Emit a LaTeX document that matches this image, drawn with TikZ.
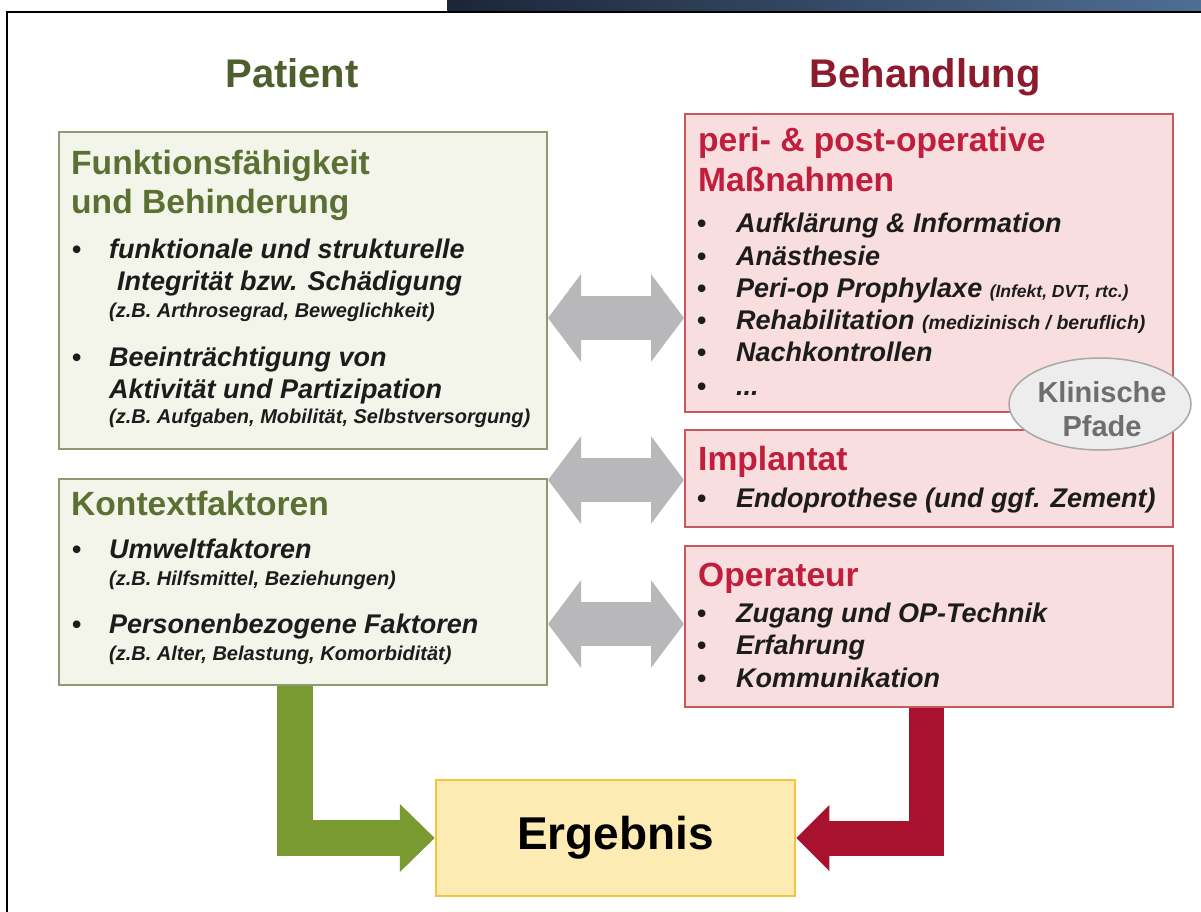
\documentclass[tikz,border=0pt]{standalone}
\usepackage{fontspec}
\setmainfont{Liberation Sans}
\usetikzlibrary{arrows.meta,shapes.geometric,backgrounds}
\definecolor{gfill}{HTML}{F3F4EA}
\definecolor{gborder}{HTML}{8E9B72}
\definecolor{ghead}{HTML}{5B7133}
\definecolor{gtitle}{HTML}{4E5E2C}
\definecolor{garrowc}{HTML}{789A30}
\definecolor{rfill}{HTML}{F8DEDE}
\definecolor{rborder}{HTML}{C45A5E}
\definecolor{rhead}{HTML}{C01E3C}
\definecolor{rtitle}{HTML}{8C1B2E}
\definecolor{rarrowc}{HTML}{A8122E}
\definecolor{grayarr}{HTML}{B8B8BB}
\definecolor{efill}{HTML}{FCECB4}
\definecolor{eborder}{HTML}{F2C440}
\definecolor{elfill}{HTML}{EDEDED}
\definecolor{elborder}{HTML}{A8A8A8}
\definecolor{eltext}{HTML}{6E6E6E}
\definecolor{txt}{HTML}{1C1C1C}
\definecolor{barL}{HTML}{1B2538}
\definecolor{barR}{HTML}{4F6E93}
\tikzset{
  gbox/.style={draw=gborder,fill=gfill,line width=2pt,inner sep=0pt,minimum width=488pt},
  rbox/.style={draw=rborder,fill=rfill,line width=2pt,inner sep=0pt,minimum width=488pt},
  ptitle/.style={font=\bfseries\fontsize{40}{48}\selectfont,anchor=base,inner sep=0pt},
  ghd/.style={font=\bfseries\fontsize{33.6}{40}\selectfont,text=ghead,anchor=base west,inner sep=0pt},
  rhd/.style={font=\bfseries\fontsize{33.6}{40}\selectfont,text=rhead,anchor=base west,inner sep=0pt},
  itm/.style={font=\bfseries\itshape\fontsize{27}{32}\selectfont,text=txt,anchor=base west,inner sep=0pt},
  sml/.style={font=\bfseries\itshape\fontsize{20}{24}\selectfont,text=txt,anchor=base west,inner sep=0pt},
  bul/.style={font=\bfseries\fontsize{26.5}{32}\selectfont,text=txt,anchor=base west,inner sep=0pt},
  dblarrow/.style={draw=grayarr,line width=44pt,{Triangle[width=86pt,length=33pt]}-{Triangle[width=86pt,length=33pt]}},
  garrow/.style={draw=garrowc,line width=36pt,-{Triangle[width=66pt,length=35pt]}},
  rarrow/.style={draw=rarrowc,line width=35pt,-{Triangle[width=64pt,length=33pt]}},
  glink/.style={draw=garrowc,line width=37pt},
  rlink/.style={draw=rarrowc,line width=38pt},
  klin/.style={font=\bfseries\fontsize{29}{34}\selectfont,text=eltext,anchor=base,inner sep=0pt}
}
\begin{document}
\begin{tikzpicture}[x=1pt,y=-1pt]
\useasboundingbox (0,0) rectangle (1201,912);
\fill[white] (0,0) rectangle (1201,912);
% top bar and frame
\shade[left color=barL,right color=barR] (447,0) rectangle (1201,12);
\draw[line width=1.5pt,black] (7,912) -- (7,12) -- (1201,12);

% titles
\node[ptitle,text=gtitle] (tP) at (292,88) {Patient};
\node[ptitle,text=rtitle] (tB) at (925,88) {Behandlung};

% boxes
\node[gbox,minimum height=317pt] (L1) at (303,290.5) {};
\node[gbox,minimum height=206pt] (L2) at (303,582) {};
\node[rbox,minimum height=298pt] (R1) at (929,263) {};
\node[rbox,minimum height=97pt] (R2) at (929,478.5) {};
\node[rbox,minimum height=161pt] (R3) at (929,626.5) {};
\node[draw=eborder,fill=efill,line width=2.5pt,minimum width=359pt,minimum height=116pt,inner sep=0pt,
      font=\bfseries\fontsize{46}{52}\selectfont,text=black] (E) at (615.5,838) {Ergebnis};

% links between boxes (behind)
\begin{pgfonlayer}{background}
\draw[glink] ([xshift=-8.5pt]L1.south) -- ([xshift=-8.5pt]L2.north);
\draw[rlink] ([xshift=-2pt]R1.south) -- ([xshift=-2pt]R2.north);
\draw[rlink] ([xshift=-2pt]R2.south) -- ([xshift=-2pt]R3.north);
\end{pgfonlayer}

% left box 1 text
\node[ghd] (h1a) at (71,175) {Funktionsfähigkeit};
\node[ghd] (h1b) at (71,213) {und Behinderung};
\node[bul] (b1) at (72,258) {•};
\node[itm] (i1a) at (109,258) {funktionale und strukturelle};
\node[itm] (i1b) at (117,290) {Integrität bzw. Schädigung};
\node[sml] (s1) at (109,317) {(z.B. Arthrosegrad, Beweglichkeit)};
\node[bul] (b2) at (72,366) {•};
\node[itm] (i2a) at (109,366) {Beeinträchtigung von};
\node[itm] (i2b) at (109,398) {Aktivität und Partizipation};
\node[sml] (s2) at (109,423) {(z.B. Aufgaben, Mobilität, Selbstversorgung)};

% left box 2 text
\node[ghd] (h2) at (71,515) {Kontextfaktoren};
\node[bul] (b3) at (72,558) {•};
\node[itm] (i3) at (109,558) {Umweltfaktoren};
\node[sml] (s3) at (109,585) {(z.B. Hilfsmittel, Beziehungen)};
\node[bul] (b4) at (72,633) {•};
\node[itm] (i4) at (109,633) {Personenbezogene Faktoren};
\node[sml] (s4) at (109,660) {(z.B. Alter, Belastung, Komorbidität)};

% right box 1 text
\node[rhd] (h3a) at (698,152) {peri- \& post-operative};
\node[rhd] (h3b) at (698,192) {Maßnahmen};
\node[bul] (b5) at (697,232) {•};
\node[itm] (i5) at (736,232) {Aufklärung \& Information};
\node[bul] (b6) at (697,265) {•};
\node[itm] (i6) at (736,265) {Anästhesie};
\node[bul] (b7) at (697,297) {•};
\node[itm] (i7) at (736,297) {Peri-op Prophylaxe \fontsize{17.5}{20}\selectfont(Infekt, DVT, rtc.)};
\node[bul] (b8) at (697,329) {•};
\node[itm] (i8) at (736,329) {Rehabilitation \fontsize{19.5}{22}\selectfont(medizinisch / beruflich)};
\node[bul] (b9) at (697,361) {•};
\node[itm] (i9) at (736,361) {Nachkontrollen};
\node[bul] (b10) at (697,395) {•};
\node[itm] (i10) at (736,395) {...};

% right box 2 text
\node[rhd] (h4) at (698,470) {Implantat};
\node[bul] (b11) at (697,507) {•};
\node[itm] (i11) at (736,507) {Endoprothese (und ggf. Zement)};

% right box 3 text
\node[rhd] (h5) at (698,586) {Operateur};
\node[bul] (b12) at (697,622) {•};
\node[itm] (i12) at (736,622) {Zugang und OP-Technik};
\node[bul] (b13) at (697,654) {•};
\node[itm] (i13) at (736,654) {Erfahrung};
\node[bul] (b14) at (697,687) {•};
\node[itm] (i14) at (736,687) {Kommunikation};

% Klinische Pfade
\node[ellipse,draw=elborder,fill=elfill,line width=1.5pt,minimum width=182pt,minimum height=92pt,inner sep=0pt] (K) at (1100,404) {};
\node[klin] (k1) at (1102,402) {Klinische};
\node[klin] (k2) at (1102,436) {Pfade};

% gray double arrows
\draw[dblarrow] (L1.east |- 0,318) -- (R1.west |- 0,318);
\draw[dblarrow] (L2.east |- 0,480) -- (R2.west |- 0,480);
\draw[dblarrow] (L2.east |- 0,624) -- (R3.west |- 0,624);

% outcome arrows
\draw[garrow] ([xshift=-8.5pt]L2.south) |- (E.west);
\draw[rarrow] ([xshift=-2.5pt]R3.south) |- (E.east);
\end{tikzpicture}
\end{document}
